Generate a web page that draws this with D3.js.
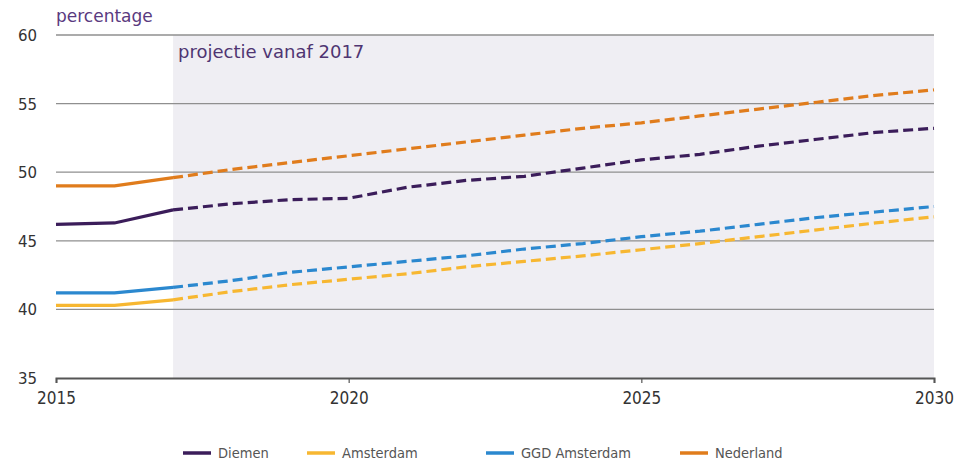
<!DOCTYPE html>
<html>
<head>
<meta charset="utf-8">
<script src="https://cdn.jsdelivr.net/npm/d3@7"></script>
<style>
  html, body { margin: 0; padding: 0; background: #fff; }
  svg { display: block; }
</style>
</head>
<body>
<svg id="chart" width="957" height="464"></svg>
<script>
const years = [2015,2016,2017,2018,2019,2020,2021,2022,2023,2024,2025,2026,2027,2028,2029,2030];
const diemen    = [46.2,46.3,47.25,47.7,48.0,48.1,48.9,49.4,49.7,50.3,50.9,51.3,51.9,52.4,52.9,53.2];
const amsterdam = [40.3,40.3,40.7,41.3,41.8,42.2,42.6,43.1,43.5,43.9,44.35,44.8,45.3,45.8,46.3,46.75];
const ggd       = [41.2,41.2,41.6,42.1,42.7,43.1,43.5,43.9,44.4,44.8,45.3,45.7,46.2,46.7,47.1,47.5];
const nederland = [49.0,49.0,49.6,50.2,50.7,51.2,51.7,52.2,52.7,53.2,53.6,54.1,54.6,55.1,55.6,56.0];
const seriesNames = ["Diemen","Amsterdam","GGD Amsterdam","Nederland"];
const seriesColors = ["#3b1d5a","#f7b731","#2b88cf","#e07c1c"];
const yTicks = [35,40,45,50,55,60];
const xTicks = [2015,2020,2025,2030];
const projectionStart = 2017;

(function(){
const series = [diemen, amsterdam, ggd, nederland];

const svg = d3.select("#chart");
const mLeft = 56, mRight = 934, mTop = 35, mBottom = 378;
const x = d3.scaleLinear().domain([2015,2030]).range([mLeft,mRight]);
const y = d3.scaleLinear().domain([35,60]).range([mBottom,mTop]);

// projection shading
svg.append("rect")
  .attr("x", x(projectionStart)).attr("y", y(60))
  .attr("width", x(2030)-x(projectionStart)).attr("height", y(35)-y(60))
  .attr("fill", "#efeef3");

// gridlines
svg.append("g").selectAll("line").data(yTicks.filter(d=>d>35)).join("line")
  .attr("x1", mLeft).attr("x2", mRight)
  .attr("y1", d=>y(d)).attr("y2", d=>y(d))
  .attr("stroke", "#8f8f8f").attr("stroke-width", 1.3);

// y tick labels
svg.append("g").selectAll("text").data(yTicks).join("text")
  .attr("x", 37).attr("y", d=>y(d)+6)
  .attr("text-anchor","end")
  .attr("font-family","DejaVu Sans, Verdana, sans-serif")
  .attr("font-size", 15).attr("fill","#333")
  .text(d=>d);

// x axis
const xAxis = d3.axisBottom(x).tickValues(xTicks).tickFormat(d3.format("d")).tickSize(5).tickPadding(9);
const gx = svg.append("g").attr("transform",`translate(0,${mBottom})`).call(xAxis);
gx.select(".domain").attr("stroke","#555").attr("stroke-width",2);
gx.selectAll(".tick line").attr("stroke","#555").attr("stroke-width",1.2);
gx.selectAll(".tick text")
  .attr("font-family","DejaVu Sans Condensed, DejaVu Sans, sans-serif")
  .attr("font-size", 17).attr("fill","#333");

// lines
const line = d3.line().x(d=>x(d[0])).y(d=>y(d[1]));
series.forEach((vals, i) => {
  const pts = years.map((yr, j) => [yr, vals[j]]);
  const hist = pts.filter(p => p[0] <= projectionStart);
  const proj = pts.filter(p => p[0] >= projectionStart);
  svg.append("path").datum(hist).attr("d", line)
    .attr("fill","none").attr("stroke", seriesColors[i]).attr("stroke-width",3.2);
  svg.append("path").datum(proj).attr("d", line)
    .attr("fill","none").attr("stroke", seriesColors[i]).attr("stroke-width",3.2)
    .attr("stroke-dasharray","10,5");
});

// titles
svg.append("text").attr("x", 56).attr("y", 22)
  .attr("font-family","DejaVu Sans, Verdana, sans-serif")
  .attr("font-size", 17).attr("fill","#5a3a80").text("percentage");
svg.append("text").attr("x", x(projectionStart)+5).attr("y", 58)
  .attr("font-family","DejaVu Sans, Verdana, sans-serif")
  .attr("font-size", 18).attr("fill","#4f3572").text("projectie vanaf 2017");

// legend
const legendX = [183, 307, 486, 680];
const lg = svg.append("g").selectAll("g").data(seriesNames).join("g")
  .attr("transform", (d,i)=>`translate(${legendX[i]},453)`);
lg.append("line").attr("x1",0).attr("x2",28).attr("y1",0).attr("y2",0)
  .attr("stroke",(d,i)=>seriesColors[i]).attr("stroke-width",3.5);
lg.append("text").attr("x",35).attr("y",5)
  .attr("font-family","DejaVu Sans Condensed, DejaVu Sans, sans-serif")
  .attr("font-size",14.5).attr("fill","#555").text(d=>d);
})();
</script>
</body>
</html>
